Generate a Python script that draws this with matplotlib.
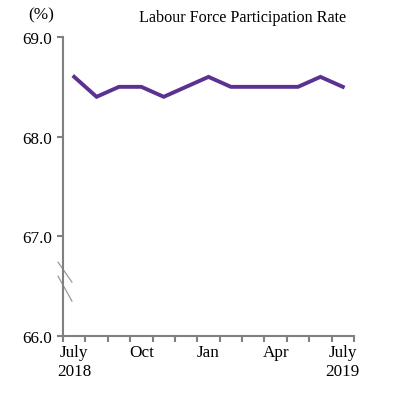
import numpy as np
import matplotlib
matplotlib.use("Agg")
import matplotlib.pyplot as plt

plt.rcParams['font.family'] = ['Liberation Serif', 'DejaVu Serif']

# data
months = ["July\n2018", "Aug", "Sep", "Oct", "Nov", "Dec", "Jan",
          "Feb", "Mar", "Apr", "May", "Jun", "July\n2019"]
rate = [68.6, 68.4, 68.5, 68.5, 68.4, 68.5, 68.6,
        68.5, 68.5, 68.5, 68.5, 68.6, 68.5]
shown_labels = ["July\n2018", "Oct", "Jan", "Apr", "July\n2019"]
y_ticks = [66.0, 67.0, 68.0, 69.0]

W, H = 394, 402
fig = plt.figure(figsize=(W / 100, H / 100), dpi=100)
ax = fig.add_axes([63 / W, (H - 337) / H, (354 - 63) / W, (337 - 38) / H])

x = np.arange(len(rate))
ax.plot(x, rate, color="#5b3192", lw=2.8, solid_joinstyle="miter")

ax.set_xlim(-0.5, len(rate) - 0.5)
ax.set_ylim(66.0, 69.0)

grey = "#808080"
for s in ["top", "right"]:
    ax.spines[s].set_visible(False)
for s in ["left", "bottom"]:
    ax.spines[s].set_color(grey)
    ax.spines[s].set_linewidth(1.5)

ax.set_yticks(y_ticks)
ax.set_yticklabels([f"{v:.1f}" for v in y_ticks])
ax.tick_params(axis="y", length=4, width=1.5, color=grey, labelsize=12.3, pad=4)

# tick marks at bin boundaries, labels at selected months
ax.set_xticks(np.arange(len(rate) + 1) - 0.5)
ax.set_xticklabels([])
ax.tick_params(axis="x", length=4, width=1.5, color=grey)
for lab in shown_labels:
    i = months.index(lab)
    ax.text(i, -0.028, lab, transform=ax.get_xaxis_transform(),
            ha="center", va="top", fontsize=12.3, linespacing=1.25)

# axis break marks
for y_top, y_bot in [(66.74, 66.54), (66.60, 66.35)]:
    ax.plot([-0.72, -0.10], [y_top, y_bot], color="#999999", lw=0.9,
            clip_on=False)

fig.text(41 / W, 1 - 15 / H, "(%)", ha="center", va="center", fontsize=12.3)
fig.text(243 / W, 1 - 18 / H, "Labour Force Participation Rate",
         ha="center", va="center", fontsize=11.6)

fig.savefig("out.png", dpi=100)
